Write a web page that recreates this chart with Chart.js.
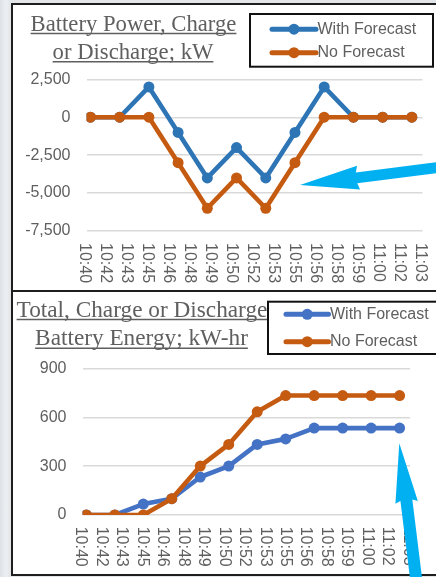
<!DOCTYPE html>
<html><head><meta charset="utf-8">
<script src="https://cdn.jsdelivr.net/npm/chart.js@4.4.1/dist/chart.umd.min.js"></script>
<style>
html,body{margin:0;padding:0;}
body{width:436px;height:577px;overflow:hidden;position:relative;background:linear-gradient(90deg,#dde2e6 0px,#eceff2 6px,#e2e6e9 11px);}
.panel{position:absolute;left:11px;width:440px;background:#fff;border:2px solid #1e1e1e;box-sizing:border-box;}
canvas{position:absolute;}
</style></head><body>
<div class="panel" style="top:3px;height:289px"></div>
<div class="panel" style="top:290px;height:286px"></div>
<canvas id="c1" width="423" height="285" style="left:13px;top:5px"></canvas>
<canvas id="c2" width="423" height="282" style="left:13px;top:292px"></canvas>
<canvas id="ov" width="436" height="577" style="left:0;top:0;pointer-events:none"></canvas>
<script>
// ---- data ----
const tickLabels = ['10:40','10:42','10:43','10:45','10:46','10:48','10:49','10:50','10:52','10:53','10:55','10:56','10:58','10:59','11:00','11:02','11:03'];
const minutesAfter1040 = [0,2,4,6,8,10,12,14,16,18,20,22];
const seriesNames = ['With Forecast','No Forecast'];
const powerWith = [0,0,2000,-1000,-4000,-2000,-4000,-1000,2000,0,0,0];
const powerNo   = [0,0,0,-3000,-6000,-4000,-6000,-3000,0,0,0,0];
const energyWith = [0,0,67,100,233,300,433,467,533,533,533,533];
const energyNo   = [0,0,0,100,300,433,633,733,733,733,733,733];
const powerTicks = {min:-7500, max:2500, step:2500};
const energyTicks = {min:0, max:900, step:300};
const titlePower = ['Battery Power, Charge','or Discharge; kW'];
const titleEnergy = ['Total, Charge or Discharge','Battery Energy; kW-hr'];

const TEXT = '#5f5f5f';
const ORANGE = '#C55A11';
const SANS = '"Liberation Sans", Arial, sans-serif';
const SERIF = '"Liberation Serif", "Times New Roman", serif';
const XMIN = -0.27, XMAX = 22.73;

function pts(vals){ return minutesAfter1040.map((t,i)=>({x:t,y:vals[i]})); }

function makeChart(id, cfg){
  const ox = cfg.ox, oy = cfg.oy;
  const decor = {
    id:'decor',
    afterDraw(chart){
      const ctx = chart.ctx, area = chart.chartArea, xs = chart.scales.x;
      ctx.save();
      // rotated x labels (top-to-bottom)
      ctx.fillStyle = TEXT; ctx.font = '16px ' + SANS;
      ctx.textAlign = 'left'; ctx.textBaseline = 'middle';
      xs.ticks.forEach((t,k)=>{
        const px = xs.getPixelForValue(t.value);
        ctx.save(); ctx.translate(px-1.8, area.bottom + cfg.labelGap); ctx.rotate(Math.PI/2);
        ctx.fillText(tickLabels[k], 0, 0); ctx.restore();
      });
      // title
      let sizes = cfg.title.map(l=>{ ctx.font = '20px ' + SERIF; return 20*l.w/ctx.measureText(l.text).width; });
      const fs = sizes.reduce((a,b)=>a+b,0)/sizes.length;
      ctx.font = fs.toFixed(2) + 'px ' + SERIF;
      ctx.textAlign = 'center'; ctx.textBaseline = 'alphabetic';
      ctx.strokeStyle = TEXT; ctx.lineWidth = 1.4;
      cfg.title.forEach(l=>{
        ctx.fillText(l.text, l.cx-ox, l.base-oy);
        const w = ctx.measureText(l.text).width;
        ctx.beginPath(); ctx.moveTo(l.cx-ox-w/2, l.ul-oy); ctx.lineTo(l.cx-ox+w/2, l.ul-oy); ctx.stroke();
      });
      // legend
      const L = cfg.legend;
      ctx.fillStyle = '#fff'; ctx.fillRect(L.left-ox, L.top-oy, L.right-L.left, L.bottom-L.top);
      ctx.strokeStyle = '#111'; ctx.lineWidth = 2;
      ctx.strokeRect(L.left-ox, L.top-oy, L.right-L.left, L.bottom-L.top);
      chart.data.datasets.forEach((ds,i)=>{
        const y = L.rows[i]-oy;
        ctx.strokeStyle = ds.borderColor; ctx.lineWidth = 5; ctx.lineCap = 'round';
        ctx.beginPath(); ctx.moveTo(L.x0-ox, y); ctx.lineTo(L.x1-ox, y); ctx.stroke();
        ctx.fillStyle = ds.borderColor;
        ctx.beginPath(); ctx.arc((L.x0+L.x1)/2-ox, y, 5.5, 0, Math.PI*2); ctx.fill();
        ctx.fillStyle = TEXT; ctx.font = '16px ' + SANS; ctx.textAlign = 'left'; ctx.textBaseline = 'middle';
        ctx.fillText(ds.label, L.x1-ox+1.5, y);
      });
      ctx.restore();
    }
  };
  const canvas = document.getElementById(id);
  return new Chart(canvas, {
    type:'line',
    data:{datasets:[
      {label:seriesNames[0], data:pts(cfg.a), borderColor:cfg.blue, backgroundColor:cfg.blue, order:2},
      {label:seriesNames[1], data:pts(cfg.b), borderColor:ORANGE, backgroundColor:ORANGE, order:1}
    ]},
    options:{
      responsive:false, animation:false, devicePixelRatio:1,
      layout:{padding:{left:0, top:cfg.area.top-oy, right:canvas.width-(cfg.area.right-ox), bottom:0}},
      elements:{
        line:{borderWidth:4.6, tension:0, borderCapStyle:'round', borderJoinStyle:'round'},
        point:{radius:5.5, borderWidth:0, hoverRadius:5.5}
      },
      plugins:{legend:{display:false}, title:{display:false}, tooltip:{enabled:false}},
      scales:{
        x:{type:'linear', min:XMIN, max:XMAX,
           grid:{display:false}, border:{display:false},
           ticks:{display:false},
           afterBuildTicks:(s)=>{ s.ticks = tickLabels.map((l,k)=>({value: XMIN + k*(XMAX-XMIN)/(tickLabels.length-1)})); },
           afterFit:(s)=>{ s.height = canvas.height-(cfg.area.bottom-oy); }
        },
        y:{min:cfg.ticks.min, max:cfg.ticks.max,
           grid:{color:'#d9d9d9', lineWidth:1.4, drawTicks:false}, border:{display:false},
           ticks:{stepSize:cfg.ticks.step, padding:16, color:TEXT, font:{family:SANS, size:16},
                  callback:(v)=>Number(v).toLocaleString('en-US')},
           afterFit:(s)=>{ s.width = cfg.area.left-ox; }
        }
      }
    },
    plugins:[decor]
  });
}

makeChart('c1', {
  ox:13, oy:5, a:powerWith, b:powerNo, blue:'#2E75B6', ticks:powerTicks, labelGap:12,
  area:{left:86.5, right:422.5, top:79.3, bottom:231},
  title:[{text:titlePower[0], cx:133.5, base:30.5, ul:33.5, w:207},
         {text:titlePower[1], cx:133, base:58.5, ul:61.7, w:160}],
  legend:{left:250, top:14, right:433, bottom:66.7, rows:[29.2,52.7], x0:272, x1:316}
});
makeChart('c2', {
  ox:13, oy:292, a:energyWith, b:energyNo, blue:'#4472C4', ticks:energyTicks, labelGap:11.7,
  area:{left:82.5, right:410, top:368.3, bottom:515},
  title:[{text:titleEnergy[0], cx:142, base:316.5, ul:319.5, w:246},
         {text:titleEnergy[1], cx:141.5, base:345, ul:348.3, w:217}],
  legend:{left:268, top:301.7, right:445, bottom:354, rows:[314.3,341.7], x0:286, x1:328.5}
});

// annotation arrows
(function(){
  const ctx = document.getElementById('ov').getContext('2d');
  ctx.fillStyle = '#00B0F0';
  function arrow(tx,ty,fx,fy,headLen,headHalf,shaftHalf){
    const dx=tx-fx, dy=ty-fy, Ln=Math.hypot(dx,dy), ux=dx/Ln, uy=dy/Ln, nx=-uy, ny=ux;
    const bx=tx-ux*headLen, by=ty-uy*headLen;
    ctx.beginPath();
    ctx.moveTo(fx+nx*shaftHalf, fy+ny*shaftHalf);
    ctx.lineTo(bx+nx*shaftHalf, by+ny*shaftHalf);
    ctx.lineTo(bx+nx*headHalf-ux*2, by+ny*headHalf-uy*2);
    ctx.lineTo(tx,ty);
    ctx.lineTo(bx-nx*headHalf-ux*2, by-ny*headHalf-uy*2);
    ctx.lineTo(bx-nx*shaftHalf, by-ny*shaftHalf);
    ctx.lineTo(fx-nx*shaftHalf, fy-ny*shaftHalf);
    ctx.closePath(); ctx.fill();
  }
  arrow(300,185, 442,167, 57, 12, 5.5);
  arrow(399.3,443.3, 416.5,582, 57.5, 11.3, 6);
})();
</script>
</body></html>
